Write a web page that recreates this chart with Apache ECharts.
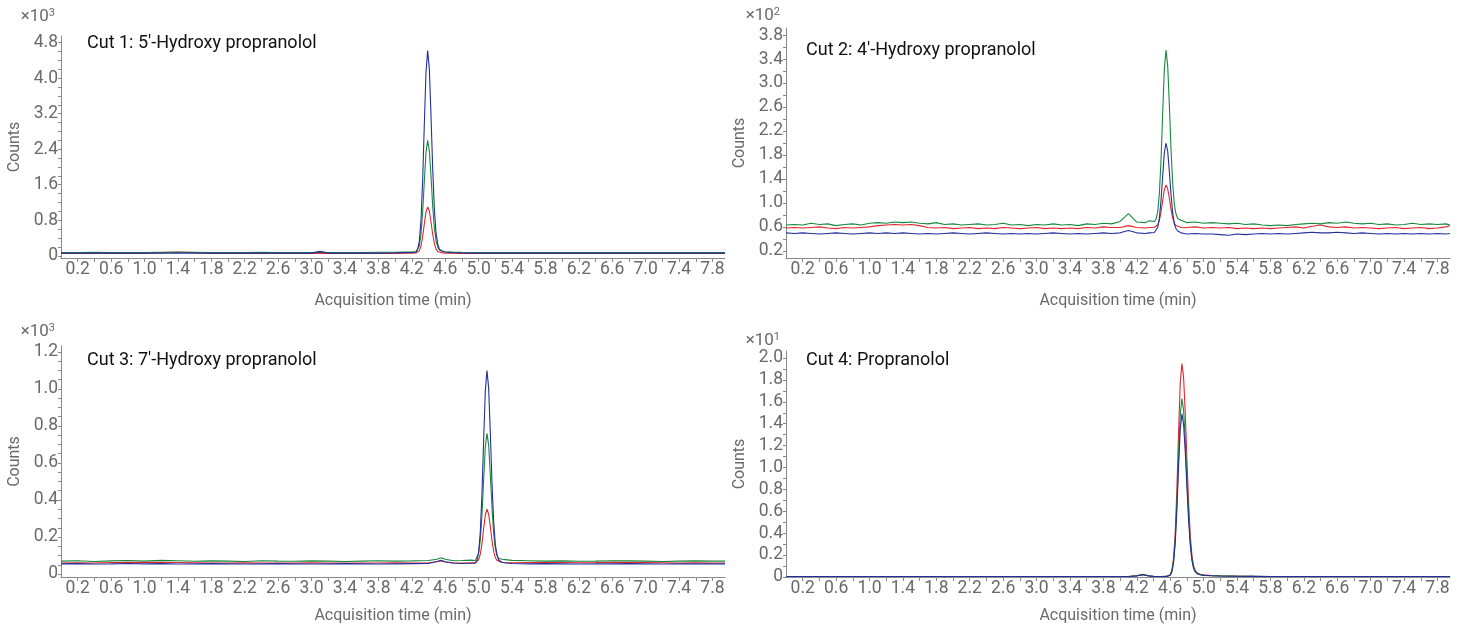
<!DOCTYPE html>
<html>
<head>
<meta charset="utf-8">
<script src="https://cdn.jsdelivr.net/npm/echarts@6/dist/echarts.min.js"></script>
<style>
html,body{margin:0;padding:0;background:#fff;}
#chart{width:1460px;height:626px;}
</style>
</head>
<body>
<div id="chart"></div>
<script>
// ---------- DATA ----------
const panelTitles = ["Cut 1: 5'-Hydroxy propranolol", "Cut 2: 4'-Hydroxy propranolol", "Cut 3: 7'-Hydroxy propranolol", "Cut 4: Propranolol"];
const multipliers = ["3", "2", "3", "1"];
const xLabelValues = [0.2,0.6,1.0,1.4,1.8,2.2,2.6,3.0,3.4,3.8,4.2,4.6,5.0,5.4,5.8,6.2,6.6,7.0,7.4,7.8];
const yLabels1 = [0,0.8,1.6,2.4,3.2,4.0,4.8];
const yLabels2 = [0.2,0.6,1.0,1.4,1.8,2.2,2.6,3.0,3.4,3.8];
const yLabels3 = [0,0.2,0.4,0.6,0.8,1.0,1.2];
const yLabels4 = [0,0.2,0.4,0.6,0.8,1.0,1.2,1.4,1.6,1.8,2.0];

// Cut 1 (x10^3 counts)
const time1 = [0,0.2,0.4,0.6,0.8,1.0,1.2,1.4,1.6,1.8,2.0,2.2,2.4,2.6,2.8,3.0,3.1,3.2,3.4,3.6,3.8,4.0,4.1,4.2,
  4.25,4.27,4.29,4.31,4.33,4.35,4.37,4.39,4.41,4.43,4.45,4.47,4.49,4.51,4.53,
  4.57,4.6,4.7,
  4.8,5.0,5.2,5.4,5.6,5.8,6.0,6.2,6.4,6.6,6.8,7.0,7.2,7.4,7.6,7.8,7.95];
const red1 = [0.055,0.055,0.055,0.055,0.055,0.055,0.07,0.085,0.07,0.055,0.055,0.055,0.055,0.055,0.055,0.055,0.055,0.055,0.055,0.055,0.055,0.055,0.058,0.06,
  0.062,0.075,0.11,0.22,0.43,0.72,0.99,1.10,1.01,0.76,0.49,0.28,0.155,0.097,0.075,
  0.065,0.06,0.057,
  0.055,0.055,0.055,0.055,0.055,0.055,0.055,0.055,0.055,0.055,0.055,0.055,0.055,0.055,0.055,0.055,0.055];
const green1 = [0.075,0.075,0.078,0.075,0.075,0.075,0.078,0.08,0.078,0.075,0.075,0.075,0.078,0.075,0.075,0.075,0.078,0.075,0.075,0.075,0.078,0.08,0.085,0.09,
  0.095,0.12,0.22,0.48,0.98,1.68,2.33,2.60,2.37,1.79,1.13,0.63,0.34,0.20,0.13,
  0.10,0.09,0.08,
  0.078,0.075,0.075,0.075,0.075,0.075,0.075,0.075,0.075,0.075,0.075,0.075,0.075,0.075,0.075,0.075,0.075];
const blue1 = [0.06,0.06,0.06,0.06,0.06,0.06,0.06,0.06,0.06,0.06,0.06,0.06,0.06,0.06,0.06,0.06,0.10,0.06,0.06,0.06,0.06,0.065,0.07,0.075,
  0.078,0.138,0.33,0.80,1.70,2.96,4.13,4.62,4.21,3.16,1.98,1.06,0.52,0.27,0.15,
  0.10,0.085,0.07,
  0.065,0.06,0.06,0.06,0.06,0.06,0.06,0.06,0.06,0.06,0.06,0.06,0.06,0.06,0.06,0.06,0.06];

// Cut 2 (x10^2 counts)
const time2 = [0.0,0.1,0.2,0.3,0.4,0.5,0.6,0.7,0.8,0.9,1.0,1.1,1.2,1.3,1.4,1.5,1.6,1.7,1.8,1.9,2.0,2.1,2.2,2.3,2.4,2.5,2.6,2.7,2.8,2.9,3.0,3.1,3.2,3.3,3.4,3.5,3.6,3.7,3.8,3.9,4.0,4.1,4.2,4.3,
  4.35,
  4.41,4.43,4.45,4.47,4.49,4.51,4.53,4.55,4.57,4.59,4.61,4.63,4.65,4.67,4.69,
  4.73,4.77,
  4.8,4.9,5.0,5.1,5.2,5.3,5.4,5.5,5.6,5.7,5.8,5.9,6.0,6.1,6.2,6.3,6.4,6.5,6.6,6.7,6.8,6.9,7.0,7.1,7.2,7.3,7.4,7.5,7.6,7.7,7.8,7.9,
  7.95];
const red2 = [0.58,0.59,0.58,0.59,0.60,0.58,0.57,0.59,0.58,0.59,0.60,0.62,0.63,0.64,0.63,0.64,0.62,0.59,0.58,0.59,0.57,0.58,0.59,0.57,0.58,0.57,0.59,0.58,0.57,0.58,0.59,0.57,0.58,0.57,0.58,0.57,0.59,0.58,0.60,0.59,0.59,0.62,0.59,0.58,
  0.59,
  0.593,0.602,0.632,0.706,0.846,1.04,1.22,1.30,1.236,1.073,0.888,0.746,0.661,0.622,0.604,
  0.59,0.585,
  0.59,0.60,0.58,0.59,0.58,0.59,0.57,0.58,0.57,0.58,0.57,0.58,0.59,0.60,0.58,0.61,0.63,0.60,0.59,0.60,0.58,0.59,0.58,0.57,0.58,0.59,0.57,0.58,0.59,0.57,0.58,0.60,
  0.62];
const green2 = [0.63,0.64,0.63,0.66,0.64,0.65,0.62,0.64,0.65,0.63,0.66,0.67,0.66,0.68,0.67,0.68,0.66,0.65,0.67,0.64,0.65,0.63,0.64,0.65,0.63,0.64,0.66,0.63,0.64,0.62,0.64,0.63,0.65,0.63,0.64,0.62,0.65,0.64,0.66,0.65,0.69,0.82,0.68,0.67,
  0.70,
  0.69,0.73,0.85,1.15,1.71,2.50,3.24,3.55,3.29,2.63,1.89,1.31,0.97,0.81,0.74,
  0.71,0.69,
  0.67,0.68,0.66,0.67,0.66,0.65,0.66,0.64,0.65,0.63,0.62,0.63,0.62,0.64,0.65,0.66,0.65,0.67,0.66,0.68,0.66,0.65,0.66,0.64,0.65,0.63,0.64,0.66,0.64,0.65,0.64,0.65,
  0.63];
const blue2 = [0.50,0.49,0.50,0.49,0.48,0.49,0.50,0.49,0.48,0.49,0.50,0.49,0.50,0.49,0.50,0.49,0.48,0.49,0.48,0.49,0.50,0.49,0.48,0.49,0.50,0.49,0.48,0.49,0.48,0.49,0.48,0.49,0.50,0.49,0.48,0.49,0.48,0.49,0.50,0.49,0.50,0.54,0.50,0.49,
  0.50,
  0.506,0.526,0.589,0.745,1.04,1.45,1.84,2.0,1.865,1.52,1.13,0.83,0.65,0.568,0.53,
  0.50,0.49,
  0.48,0.49,0.48,0.48,0.47,0.46,0.48,0.47,0.48,0.49,0.48,0.49,0.48,0.49,0.50,0.51,0.50,0.50,0.51,0.50,0.49,0.50,0.49,0.48,0.49,0.48,0.49,0.48,0.49,0.48,0.49,0.48,
  0.49];

// Cut 3 (x10^3 counts)
const time3 = [0,0.2,0.4,0.6,0.8,1.0,1.2,1.4,1.6,1.8,2.0,2.2,2.4,2.6,2.8,3.0,3.2,3.4,3.6,3.8,4.0,4.2,4.4,
  4.5,4.55,4.6,4.7,4.8,4.9,
  4.96,4.98,5.0,5.02,5.04,5.06,5.08,5.1,5.12,5.14,5.16,5.18,5.2,5.22,5.24,
  5.28,5.32,5.4,
  5.6,5.8,6.0,6.2,6.4,6.6,6.8,7.0,7.2,7.4,7.6,7.8,7.95];
const red3 = [0.06,0.061,0.06,0.062,0.063,0.064,0.063,0.062,0.061,0.06,0.06,0.061,0.06,0.059,0.06,0.061,0.06,0.059,0.06,0.06,0.061,0.06,0.061,
  0.066,0.07,0.065,0.061,0.06,0.061,
  0.061,0.065,0.077,0.107,0.164,0.244,0.319,0.35,0.324,0.257,0.182,0.124,0.089,0.073,0.066,
  0.063,0.062,0.061,
  0.062,0.063,0.062,0.061,0.062,0.064,0.063,0.062,0.061,0.06,0.061,0.06,0.06];
const green3 = [0.07,0.072,0.068,0.071,0.073,0.07,0.074,0.072,0.069,0.071,0.07,0.068,0.072,0.07,0.069,0.071,0.07,0.068,0.07,0.072,0.07,0.071,0.073,
  0.08,0.088,0.08,0.072,0.073,0.075,
  0.073,0.082,0.111,0.182,0.318,0.508,0.686,0.76,0.698,0.539,0.36,0.222,0.139,0.101,0.084,
  0.08,0.078,0.074,
  0.072,0.07,0.071,0.069,0.07,0.072,0.071,0.07,0.068,0.07,0.071,0.07,0.07];
const blue3 = [0.055,0.056,0.054,0.055,0.057,0.055,0.056,0.054,0.055,0.056,0.055,0.054,0.055,0.056,0.055,0.054,0.055,0.056,0.055,0.054,0.055,0.056,0.057,
  0.068,0.075,0.066,0.058,0.057,0.058,
  0.059,0.073,0.117,0.225,0.431,0.719,0.988,1.10,1.006,0.766,0.494,0.285,0.16,0.102,0.076,
  0.064,0.06,0.057,
  0.055,0.056,0.055,0.054,0.055,0.055,0.056,0.055,0.054,0.055,0.055,0.055,0.055];

// Cut 4 (x10^1 counts)
const time4 = [0,0.2,0.4,0.6,0.8,1.0,1.2,1.4,1.6,1.8,2.0,2.2,2.4,2.6,2.8,3.0,3.2,3.4,3.6,3.8,4.0,
  4.1,4.2,4.27,4.34,4.4,4.5,
  4.56,4.58,4.6,4.62,4.64,4.66,4.68,4.7,4.72,4.74,4.76,4.78,4.8,4.82,4.84,4.86,4.88,4.9,
  4.93,4.96,5.0,5.1,5.2,5.4,5.6,5.8,
  6.0,6.2,6.4,6.6,6.8,7.0,7.2,7.4,7.6,7.8,7.95];
const red4 = [0.005,0.005,0.005,0.005,0.005,0.005,0.005,0.005,0.005,0.005,0.005,0.005,0.005,0.005,0.005,0.005,0.005,0.005,0.005,0.005,0.005,
  0.005,0.012,0.025,0.012,0.006,0.005,
  0.006,0.009,0.021,0.061,0.17,0.404,0.80,1.314,1.767,1.95,1.826,1.503,1.075,0.686,0.384,0.2,0.102,0.059,
  0.034,0.024,0.019,0.013,0.011,0.008,0.006,0.005,
  0.005,0.005,0.005,0.005,0.005,0.005,0.005,0.005,0.005,0.005,0.005];
const green4 = [0.005,0.005,0.005,0.005,0.005,0.005,0.005,0.005,0.005,0.005,0.005,0.005,0.005,0.005,0.005,0.005,0.005,0.005,0.005,0.005,0.005,
  0.005,0.011,0.022,0.011,0.006,0.005,
  0.0055,0.008,0.018,0.052,0.143,0.338,0.671,1.099,1.477,1.63,1.526,1.256,0.899,0.574,0.322,0.168,0.086,0.05,
  0.029,0.021,0.016,0.012,0.01,0.007,0.006,0.005,
  0.005,0.005,0.005,0.005,0.005,0.005,0.005,0.005,0.005,0.005,0.005];
const blue4 = [0.004,0.004,0.004,0.004,0.004,0.004,0.004,0.004,0.004,0.004,0.004,0.004,0.004,0.004,0.004,0.004,0.004,0.004,0.004,0.004,0.004,
  0.004,0.01,0.02,0.01,0.005,0.004,
  0.0055,0.0077,0.017,0.048,0.131,0.309,0.614,1.004,1.35,1.49,1.395,1.148,0.822,0.525,0.295,0.154,0.079,0.047,
  0.027,0.02,0.015,0.011,0.009,0.007,0.006,0.005,
  0.004,0.004,0.004,0.004,0.004,0.004,0.004,0.004,0.004,0.004,0.004];

// ---------- LAYOUT / STYLE ----------
const COLORS = { red: '#e3262c', green: '#17893b', blue: '#23309b' };
const FONT = 'Roboto, "Noto Sans", sans-serif';
const LABEL_COLOR = '#6a6a6a';
const AXIS_COLOR = '#8a8a8a';

const panels = [
  { grid: {left: 61, top: 36, width: 664, height: 222}, yMin: -0.05, yMax: 4.95, yLabels: yLabels1, yTickStep: 0.2, xNameGap: 35,
    time: time1, red: red1, green: green1, blue: blue1, titlePos: {left: 82, top: 29}, multPos: {right: 1400, top: 3} },
  { grid: {left: 786, top: 28, width: 664, height: 230}, yMin: 0.08, yMax: 3.92, yLabels: yLabels2, yTickStep: 0.2, xNameGap: 35,
    time: time2, red: red2, green: green2, blue: blue2, titlePos: {left: 801, top: 36}, multPos: {right: 675, top: 2} },
  { grid: {left: 61, top: 346, width: 664, height: 231}, yMin: -0.016, yMax: 1.232, yLabels: yLabels3, yTickStep: 0.05, xNameGap: 31,
    time: time3, red: red3, green: green3, blue: blue3, titlePos: {left: 82, top: 346}, multPos: {right: 1400, top: 318} },
  { grid: {left: 786, top: 351, width: 664, height: 226}, yMin: 0, yMax: 2.064, yLabels: yLabels4, yTickStep: 0.1, xNameGap: 31,
    time: time4, red: red4, green: green4, blue: blue4, titlePos: {left: 801, top: 346}, multPos: {right: 675, top: 327} }
];

function stepValues(start, end, step) {
  const out = [];
  for (let v = start; v <= end + 1e-9; v += step) out.push(Math.round(v * 1000) / 1000);
  return out;
}
const xTickValues = stepValues(0.2, 7.8, 0.2);

const option = {
  animation: false,
  backgroundColor: '#ffffff',
  title: [],
  grid: [],
  xAxis: [],
  yAxis: [],
  series: []
};

panels.forEach((p, i) => {
  option.grid.push(Object.assign({ outerBoundsMode: 'none', containLabel: false }, p.grid));
  option.title.push({
    text: panelTitles[i],
    left: p.titlePos.left, top: p.titlePos.top,
    textStyle: { fontFamily: FONT, fontSize: 18, fontWeight: 'normal', color: '#111111' }
  });
  option.title.push({
    text: '×10{s|' + multipliers[i] + '}',
    right: p.multPos.right, top: p.multPos.top,
    textStyle: {
      fontFamily: FONT, fontSize: 17, fontWeight: 'normal', color: LABEL_COLOR,
      rich: { s: { fontFamily: FONT, fontSize: 11, color: LABEL_COLOR, verticalAlign: 'top', padding: [0, 0, 7, 0] } }
    }
  });
  option.xAxis.push({
    type: 'value', gridIndex: i, min: 0, max: 7.95,
    axisLine: { show: true, onZero: false, lineStyle: { color: AXIS_COLOR, width: 1 } },
    axisTick: { show: true, customValues: xTickValues, length: 4, lineStyle: { color: AXIS_COLOR } },
    axisLabel: { customValues: xLabelValues, color: LABEL_COLOR, fontFamily: FONT, fontSize: 17.5, margin: 3,
      formatter: v => v.toFixed(1) },
    splitLine: { show: false },
    name: 'Acquisition time (min)', nameLocation: 'middle', nameGap: p.xNameGap,
    nameTextStyle: { color: LABEL_COLOR, fontFamily: FONT, fontSize: 16 }
  });
  const yTicks = stepValues(p.yLabels[0], p.yLabels[p.yLabels.length - 1], p.yTickStep);
  option.yAxis.push({
    type: 'value', gridIndex: i, min: p.yMin, max: p.yMax,
    axisLine: { show: true, onZero: false, lineStyle: { color: AXIS_COLOR, width: 1 } },
    axisTick: { show: true, customValues: yTicks, length: 3, lineStyle: { color: AXIS_COLOR } },
    axisLabel: { customValues: p.yLabels, color: LABEL_COLOR, fontFamily: FONT, fontSize: 17.5, margin: 3,
      formatter: v => (Math.abs(v) < 1e-9 ? '0' : v.toFixed(1)) },
    splitLine: { show: false },
    name: 'Counts', nameLocation: 'middle', nameGap: 38,
    nameTextStyle: { color: LABEL_COLOR, fontFamily: FONT, fontSize: 16 }
  });
  [['red', p.red], ['green', p.green], ['blue', p.blue]].forEach(([c, vals]) => {
    option.series.push({
      type: 'line', xAxisIndex: i, yAxisIndex: i,
      data: p.time.map((t, k) => [t, vals[k]]),
      showSymbol: false, symbol: 'none', smooth: false,
      lineStyle: { color: COLORS[c], width: 1.1 },
      emphasis: { disabled: true }, silent: true
    });
  });
});

const chart = echarts.init(document.getElementById('chart'), null, { renderer: 'canvas' });
chart.setOption(option);
</script>
</body>
</html>
